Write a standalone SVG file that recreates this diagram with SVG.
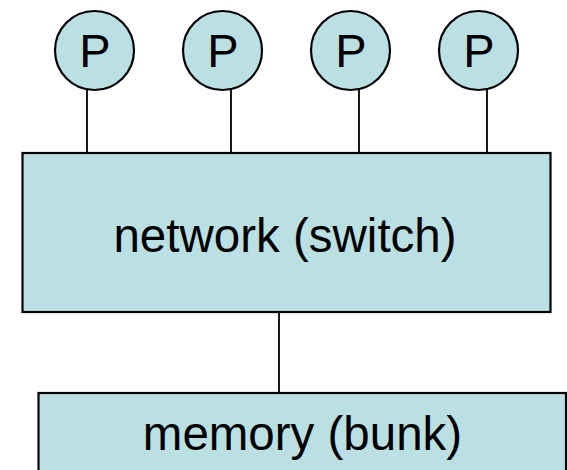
<svg xmlns="http://www.w3.org/2000/svg" width="567" height="470" viewBox="0 0 567 470">
<style>
.n{fill:#BBE0E3;stroke:#000;stroke-width:2.2}
.c{stroke:#000;stroke-width:1.8;fill:none}
text{font-family:"Liberation Sans",Arial,sans-serif;fill:#000;text-anchor:middle}
.p{font-size:47px}
.l{font-size:47.5px}
</style>
<rect width="567" height="470" fill="#fff"/>
<g id="connectors">
<line class="c" x1="87" y1="88" x2="87" y2="153"/>
<line class="c" x1="231" y1="88" x2="231" y2="153"/>
<line class="c" x1="359" y1="88" x2="359" y2="153"/>
<line class="c" x1="487" y1="88" x2="487" y2="153"/>
<line class="c" x1="279" y1="312" x2="279" y2="393"/>
</g>
<g id="p1"><circle class="n" cx="94.5" cy="50.5" r="39.5"/><text class="p" x="95" y="67">P</text></g>
<g id="p2"><circle class="n" cx="222.5" cy="50.5" r="39.5"/><text class="p" x="223" y="67">P</text></g>
<g id="p3"><circle class="n" cx="350.5" cy="50.5" r="39.5"/><text class="p" x="351" y="67">P</text></g>
<g id="p4"><circle class="n" cx="478.5" cy="50.5" r="39.5"/><text class="p" x="479" y="67">P</text></g>
<g id="network"><rect class="n" x="22.5" y="153" width="528" height="159"/><text class="l" x="285" y="252">network (switch)</text></g>
<g id="memory"><rect class="n" x="38.5" y="393" width="527.5" height="90"/><text class="l" x="302.5" y="450">memory (bunk)</text></g>
</svg>
